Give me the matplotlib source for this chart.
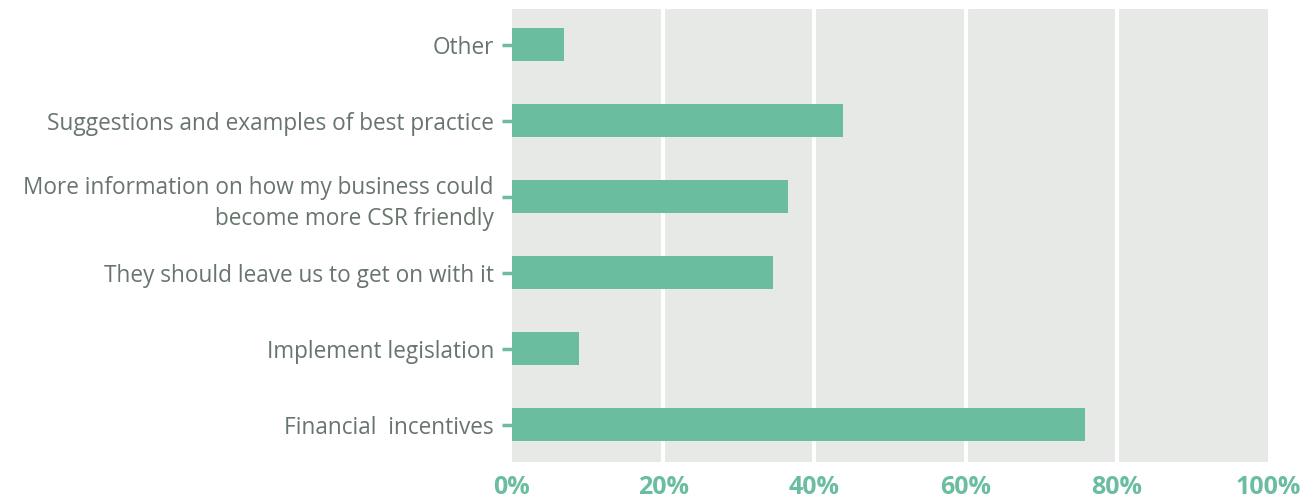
import numpy as np
import matplotlib.pyplot as plt

categories = ["Financial  incentives", "Implement legislation",
              "They should leave us to get on with it",
              "More information on how my business could\nbecome more CSR friendly",
              "Suggestions and examples of best practice", "Other"]
values = [75.8, 8.9, 34.5, 36.5, 43.8, 6.9]
xticks = [0, 20, 40, 60, 80, 100]
xticklabels = ["0%", "20%", "40%", "60%", "80%", "100%"]

green = "#6abd9e"
grey_txt = "#68756d"

fig = plt.figure(figsize=(13.09, 5.03), dpi=100)
ax = fig.add_axes([512/1309, 1-462/503, 756/1309, 453/503])
ax.set_facecolor("#e7e9e7")
y = np.arange(len(categories))
ax.barh(y, values, height=0.435, color=green, zorder=3)
ax.set_xlim(0, 100)
ax.set_ylim(-0.49, 5.47)
ax.set_xticks(xticks)
ax.set_xticklabels(xticklabels, fontsize=18, fontweight="bold", color=green, family="Open Sans")
ax.set_yticks(y)
ax.set_yticklabels(categories, fontsize=16.3, color=grey_txt, family="Open Sans", linespacing=1.4)
ax.tick_params(axis="x", length=0, pad=9)
ax.tick_params(axis="y", length=7, width=2.5, color=green, pad=6)
for sp in ax.spines.values():
    sp.set_visible(False)
for g in [20, 40, 60, 80]:
    ax.axvline(g, color="white", lw=3, zorder=2)

fig.savefig("out.png", dpi=100)
